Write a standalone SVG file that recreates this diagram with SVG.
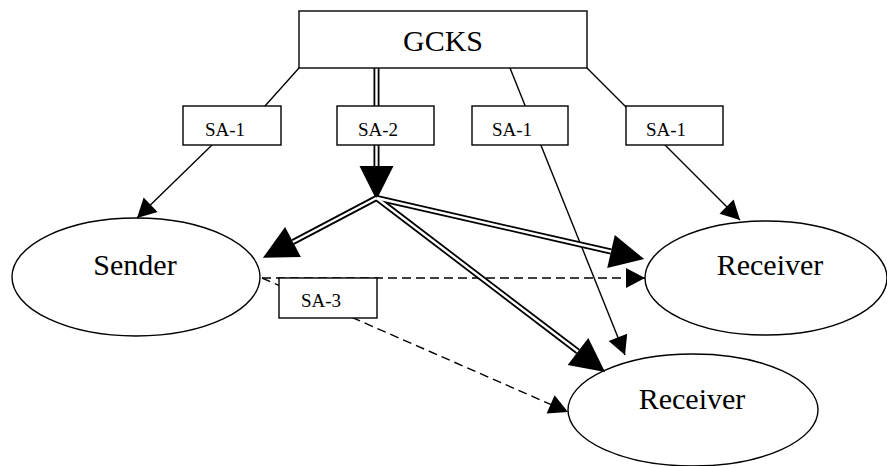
<svg xmlns="http://www.w3.org/2000/svg" width="887" height="466" viewBox="0 0 887 466">
<style>
.box{fill:#fff;stroke:#000;stroke-width:1.4}
.ell{fill:#fff;stroke:#000;stroke-width:1.4}
.big{font-family:"Liberation Serif","Times New Roman",serif;font-size:30px;fill:#000;text-anchor:middle}
.sa{font-family:"Liberation Serif","Times New Roman",serif;font-size:19px;fill:#000}
.ln{fill:none;stroke:#000;stroke-width:1.4}
.dash{fill:none;stroke:#000;stroke-width:1.4;stroke-dasharray:9 5}
.dblo{fill:none;stroke:#000;stroke-width:6}
.dbli{fill:none;stroke:#fff;stroke-width:2.4}
</style>
<defs>
<marker id="sm" markerUnits="userSpaceOnUse" markerWidth="20" markerHeight="20" refX="19" refY="10" orient="auto" overflow="visible">
<path d="M0,0 L19,10 L0,20 z" fill="#000"/>
</marker>
<marker id="bg" markerUnits="userSpaceOnUse" markerWidth="35" markerHeight="35" refX="0" refY="17" orient="auto" overflow="visible">
<path d="M0,0 L34,17 L0,34 z" fill="#000"/>
</marker>
</defs>
<rect width="887" height="466" fill="#fff"/>
<g id="sender"><ellipse class="ell" cx="136" cy="277" rx="124" ry="59"/><text class="big" x="135" y="275">Sender</text></g>
<g id="receiver1"><ellipse class="ell" cx="766" cy="278" rx="121" ry="57"/><text class="big" x="770" y="275">Receiver</text></g>
<g id="receiver2"><ellipse class="ell" cx="693" cy="410" rx="125" ry="56"/><text class="big" x="692" y="409">Receiver</text></g>
<g id="connectors">
<polyline class="ln" points="299,68 265,106 212,145 137,218" marker-end="url(#sm)"/>
<polyline class="ln" points="587,68 625,106 665,145 740,220" marker-end="url(#sm)"/>
<line class="ln" x1="510" y1="68" x2="625" y2="355" marker-end="url(#sm)"/>
<line class="dash" x1="262" y1="278" x2="645" y2="278" marker-end="url(#sm)"/>
<line class="dash" x1="262" y1="278" x2="568" y2="412" marker-end="url(#sm)"/>
<line class="dblo" x1="376.5" y1="68" x2="376.5" y2="106"/>
<line class="dblo" x1="376.5" y1="145" x2="376.5" y2="166" marker-end="url(#bg)"/>
<line class="dblo" x1="376.5" y1="198" x2="293" y2="242" marker-end="url(#bg)"/>
<line class="dblo" x1="376.5" y1="198" x2="611" y2="251.5" marker-end="url(#bg)"/>
<line class="dblo" x1="376.5" y1="198" x2="578" y2="351.5" marker-end="url(#bg)"/>
<line class="dbli" x1="376.5" y1="68" x2="376.5" y2="106"/>
<line class="dbli" x1="376.5" y1="145" x2="376.5" y2="166"/>
<line class="dbli" x1="376.5" y1="198" x2="293" y2="242"/>
<line class="dbli" x1="376.5" y1="198" x2="611" y2="251.5"/>
<line class="dbli" x1="376.5" y1="198" x2="578" y2="351.5"/>
</g>
<g id="gcks"><rect class="box" x="299" y="11" width="288" height="57"/><text class="big" x="443" y="51">GCKS</text></g>
<g id="sa1a"><rect class="box" x="183" y="106" width="98" height="39"/><text class="sa" x="205" y="136">SA-1</text></g>
<g id="sa2"><rect class="box" x="337" y="106" width="97" height="39"/><text class="sa" x="358" y="136">SA-2</text></g>
<g id="sa1b"><rect class="box" x="472" y="106" width="96" height="39"/><text class="sa" x="492" y="136">SA-1</text></g>
<g id="sa1c"><rect class="box" x="626" y="106" width="97" height="39"/><text class="sa" x="646" y="136">SA-1</text></g>
<g id="sa3"><rect class="box" x="279" y="278" width="98" height="40"/><text class="sa" x="301" y="307">SA-3</text></g>
</svg>
